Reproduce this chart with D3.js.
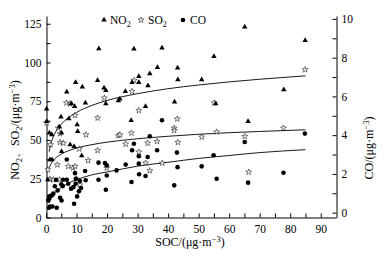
<!DOCTYPE html>
<html>
<head>
<meta charset="utf-8">
<script src="https://cdn.jsdelivr.net/npm/d3@7"></script>
<style>
  body { margin: 0; background: #fff; }
  text { font-family: "Liberation Serif", "Times New Roman", serif; fill: #000; }
  .axis path, .axis line { stroke: #000; stroke-width: 1; }
  .axis text { font-size: 11.5px; font-family: "Liberation Serif", serif; }
</style>
</head>
<body>
<div id="chart"></div>
<script>
// NO2 points [SOC, NO2]
const no2Data = [
  [0.2, 70], [0.2, 62], [1.1, 54.5], [1.9, 53.4], [1.3, 37.3], [2.0, 37.3], [0.6, 24.4],
  [1.0, 12.5], [4.4, 58.4], [4.9, 64.9], [5.1, 54.5], [5.1, 42.6], [6.8, 81], [7.5, 63.8],
  [7.9, 47], [8.3, 73.4], [9.2, 45.9], [9.4, 71.7], [9.7, 87.2], [10.2, 59.9], [10.4, 55.6],
  [11.7, 39.9], [11.9, 84.2], [12.9, 73.9], [16.9, 88.5], [17.3, 109], [19.0, 83.6], [19.6, 82],
  [19.6, 73.4], [23.7, 75.4], [24.2, 76.5], [26.0, 81.4], [27.9, 62.7], [28.2, 87.2], [28.8, 108.8],
  [30.4, 91.1], [30.4, 87.2], [32.6, 71.7], [33.4, 85], [34.0, 92.8], [36.5, 96.9], [38.0, 109.4],
  [42.1, 74.5], [43.1, 96.5], [43.2, 89], [51.0, 89], [55.0, 104], [55.6, 73.4], [65.1, 123],
  [66.2, 62], [77.9, 82.5], [84.9, 114.3]
];
// SO2 points [SOC, SO2]
const so2Data = [
  [0.2, 61], [0.6, 30.8], [1.3, 24.8], [1.5, 47], [2.4, 24.4], [3.7, 34], [4.0, 57.8], [4.4, 24.4],
  [4.6, 48.5], [4.6, 54.1], [5.7, 48], [6.7, 73.9], [7.3, 33], [7.9, 73.4], [8.9, 31.9], [9.5, 33],
  [9.5, 65.9], [10.0, 24.8], [10.9, 44.2], [11.1, 21.1], [13.1, 53.4], [13.8, 36.8], [16.9, 64.2],
  [16.9, 43.3], [19.1, 77.1], [19.9, 31.9], [23.7, 52.8], [24.2, 53.4], [26.1, 47.4], [28.0, 54.5],
  [28.2, 81.4], [28.9, 88.5], [30.4, 69.1], [30.4, 42.2], [32.6, 35.1], [33.3, 48], [34.0, 30.2],
  [36.4, 49.1], [38.1, 35.1], [42.0, 57.7], [42.0, 56.2], [43.0, 63.6], [43.2, 48.5], [51.0, 51.9],
  [55.1, 73.9], [55.9, 55.2], [65.1, 52.3], [66.4, 29.3], [77.8, 57.7], [84.9, 95.4]
];
// CO points [SOC, CO]
const coData = [
  [0.75, 0.63], [1.0, 0.25], [1.1, 0.84], [1.3, 0.32], [1.9, 0.89], [2.1, 0.32], [2.4, 0.98],
  [2.9, 1.36], [3.3, 1.7], [3.5, 0.25], [3.8, 1.15], [4.6, 0.77], [5.0, 1.46], [5.1, 0.63],
  [5.5, 1.37], [5.6, 1.7], [6.8, 1.7], [6.8, 2.74], [7.3, 1.49], [8.2, 1.24], [9.0, 1.32],
  [9.2, 0.46], [9.5, 2.04], [9.7, 1.49], [9.8, 1.75], [10.2, 0.84], [10.8, 1.1], [11.1, 1.63],
  [11.5, 1.27], [12.8, 2.15], [13.0, 1.67], [17.2, 1.7], [17.2, 2.58], [19.3, 2.56], [19.6, 1.18],
  [19.9, 2.44], [19.9, 1.92], [23.1, 2.18], [26.1, 2.48], [28.0, 1.58], [28.2, 3.22], [28.8, 3.56],
  [30.4, 2.91], [30.4, 2.53], [30.5, 1.98], [32.6, 1.89], [33.3, 2.87], [34.0, 3.94], [36.4, 3.22],
  [38.0, 4.77], [42.0, 1.41], [42.9, 3.1], [43.1, 2.35], [51.0, 2.39], [54.9, 2.96], [55.9, 1.75],
  [65.1, 3.65], [66.2, 1.55], [77.8, 2.06], [84.8, 4.08]
];
// fitted curves
const fitX = [1, 2, 3, 5, 7, 10, 15, 20, 30, 40, 50, 60, 70, 85];
const no2Fit = [42.5, 50.1, 54.6, 60.2, 63.9, 67.8, 72.3, 75.5, 79.9, 83.1, 85.5, 87.5, 89.2, 91.4];
const so2Fit = [32, 35.8, 38.1, 40.9, 42.8, 44.8, 47, 48.6, 50.8, 52.4, 53.7, 54.7, 55.5, 56.6];
const coFit = [0.5, 0.85, 1.05, 1.3, 1.5, 1.7, 1.95, 2.1, 2.4, 2.6, 2.8, 2.95, 3.1, 3.25];

const xTicks = [0, 10, 20, 30, 40, 50, 60, 70, 80, 90];
const yTicks = [0, 25, 50, 75, 100, 125];
const y2Ticks = [0, 2, 4, 6, 8, 10];

const W = 384, H = 255;
const svg = d3.select("#chart").append("svg").attr("width", W).attr("height", H);

var x = d3.scaleLinear().domain([0, 95]).range([46, 336]);
var y = d3.scaleLinear().domain([0, 130]).range([217.5, 16]);
var y2 = d3.scaleLinear().domain([-0.25, 10.15]).range([217.5, 16]);

// minor ticks
const xMinor = d3.range(5, 95, 10);
const yMinor = d3.range(12.5, 130, 25);
const y2Minor = d3.range(1, 10.1, 2);

svg.append("g").attr("class", "axis").attr("transform", "translate(0,217.5)")
  .call(d3.axisBottom(x).tickValues(xMinor).tickSize(-4).tickFormat(""))
  .call(g => g.select(".domain").remove());
svg.append("g").attr("class", "axis").attr("transform", "translate(0,217.5)")
  .call(d3.axisBottom(x).tickValues(xTicks).tickSizeInner(-4).tickSizeOuter(0).tickPadding(7));

svg.append("g").attr("class", "axis").attr("transform", "translate(46.5,0)")
  .call(d3.axisLeft(y).tickValues(yMinor).tickSize(-4).tickFormat(""))
  .call(g => g.select(".domain").remove());
svg.append("g").attr("class", "axis").attr("transform", "translate(46.5,0)")
  .call(d3.axisLeft(y).tickValues(yTicks).tickSizeInner(-4).tickSizeOuter(0).tickPadding(5));

svg.append("g").attr("class", "axis").attr("transform", "translate(336.5,0)")
  .call(d3.axisRight(y2).tickValues(y2Minor).tickSize(-4).tickFormat(""))
  .call(g => g.select(".domain").remove());
svg.append("g").attr("class", "axis").attr("transform", "translate(336.5,0)")
  .call(d3.axisRight(y2).tickValues(y2Ticks).tickSizeInner(-4).tickSizeOuter(0).tickPadding(5));

svg.selectAll(".axis .domain").attr("fill", "none");

// fit lines
const line = d3.line().curve(d3.curveMonotoneX);
[[no2Fit, y], [so2Fit, y], [coFit, y2]].forEach(([vals, sc]) => {
  svg.append("path")
    .attr("d", line(fitX.map((v, i) => [x(v), sc(vals[i])])))
    .attr("fill", "none").attr("stroke", "#000").attr("stroke-width", 0.9);
});

const tri = d3.symbol().type(d3.symbolTriangle).size(13);
const star = d3.symbol().type(d3.symbolStar).size(11);

svg.append("g").selectAll("path").data(so2Data).join("path")
  .attr("d", star)
  .attr("transform", d => "translate(" + x(d[0]) + "," + y(d[1]) + ")")
  .attr("fill", "#fff").attr("stroke", "#000").attr("stroke-width", 0.5);
svg.append("g").selectAll("path").data(no2Data).join("path")
  .attr("d", tri)
  .attr("transform", d => "translate(" + x(d[0]) + "," + y(d[1]) + ")")
  .attr("fill", "#000");
svg.append("g").selectAll("circle").data(coData).join("circle")
  .attr("cx", d => x(d[0])).attr("cy", d => y2(d[1])).attr("r", 2.3)
  .attr("fill", "#000");

// legend
const leg = svg.append("g");
leg.append("path").attr("d", tri).attr("transform", "translate(104,20)").attr("fill", "#000");
leg.append("text").attr("x", 110).attr("y", 24).style("font-size", "11.5px").html('NO<tspan font-size="8" dy="3">2</tspan>');
leg.append("path").attr("d", star).attr("transform", "translate(141,20)")
  .attr("fill", "#fff").attr("stroke", "#000").attr("stroke-width", 0.5);
leg.append("text").attr("x", 148).attr("y", 24).style("font-size", "11.5px").html('SO<tspan font-size="8" dy="3">2</tspan>');
leg.append("circle").attr("cx", 183).attr("cy", 20).attr("r", 2.3).attr("fill", "#000");
leg.append("text").attr("x", 190).attr("y", 24).style("font-size", "11.5px").text("CO");

// axis titles
svg.append("text").attr("transform", "translate(19,130) rotate(-90)").attr("text-anchor", "middle")
  .style("font-size", "12px")
  .html('NO<tspan font-size="8.5" dy="3">2</tspan><tspan dy="-3">、SO</tspan><tspan font-size="8.5" dy="3">2</tspan><tspan dy="-3">/(μg·m</tspan><tspan font-size="8.5" dy="-4">−3</tspan><tspan dy="4">)</tspan>');
svg.append("text").attr("transform", "translate(373,148) rotate(-90)").attr("text-anchor", "middle")
  .style("font-size", "12px")
  .html('CO/(μg·m<tspan font-size="8.5" dy="-4">−3</tspan><tspan dy="4">)</tspan>');
svg.append("text").attr("x", 190).attr("y", 246).attr("text-anchor", "middle")
  .style("font-size", "12px")
  .html('SOC/(μg·m<tspan font-size="8.5" dy="-4">−3</tspan><tspan dy="4">)</tspan>');
</script>
</body>
</html>
